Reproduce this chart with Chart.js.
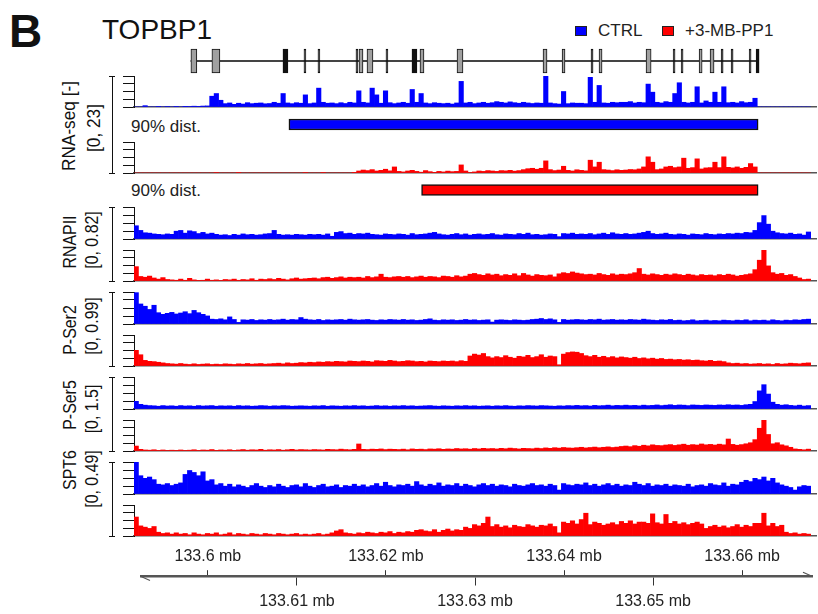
<!DOCTYPE html>
<html><head><meta charset="utf-8">
<script src="https://cdn.jsdelivr.net/npm/chart.js@4"></script>
<style>
html,body{margin:0;padding:0;background:#fff;}
body{width:818px;height:614px;position:relative;overflow:hidden;font-family:"Liberation Sans",Arial,sans-serif;color:#111;}
canvas{position:absolute;}
.t{position:absolute;white-space:nowrap;line-height:1;}
.r{position:absolute;white-space:nowrap;line-height:1;font-size:18.5px;transform:translate(-50%,-50%) rotate(-90deg) scaleX(0.86);}
.r2{position:absolute;white-space:nowrap;line-height:1;font-size:18.5px;transform:translate(-50%,-50%) rotate(-90deg) scaleX(0.93);}
.br{position:absolute;left:109px;width:6px;border-top:1px solid #111;border-bottom:1px solid #111;box-sizing:border-box;}
.br::before{content:"";position:absolute;left:2.5px;top:0;bottom:0;width:1px;background:#111;}
.sq{position:absolute;width:12px;height:10px;border:1px solid #222;box-sizing:border-box;}
</style></head><body>
<div class="t" style="left:9px;top:8px;font-size:46px;font-weight:bold;">B</div>
<div class="t" style="left:102px;top:16px;font-size:28px;">TOPBP1</div>
<div class="sq" style="left:575px;top:26px;background:#0000ff;"></div>
<div class="t" style="left:598px;top:22px;font-size:17px;color:#222;">CTRL</div>
<div class="sq" style="left:662px;top:26px;background:#ff0000;"></div>
<div class="t" style="left:685px;top:22px;font-size:17px;color:#222;">+3-MB-PP1</div>
<div class="t" style="left:131px;top:118px;font-size:17px;color:#222;">90% dist.</div>
<div class="t" style="left:131px;top:182px;font-size:17px;color:#222;">90% dist.</div>
<div class="r2" style="left:68.7px;top:126px;">RNA-seq [-]</div>
<div class="r2" style="left:93.7px;top:128px;">[0, 23]</div>
<div class="r" style="left:69.8px;top:241.5px;">RNAPII</div>
<div class="r" style="left:91.5px;top:240px;">[0, 0.82]</div>
<div class="r" style="left:69.8px;top:329.5px;">P-Ser2</div>
<div class="r" style="left:91.5px;top:325.5px;">[0, 0.99]</div>
<div class="r" style="left:69.8px;top:405px;">P-Ser5</div>
<div class="r" style="left:91.5px;top:408.5px;">[0, 1.5]</div>
<div class="r" style="left:69.8px;top:470px;">SPT6</div>
<div class="r" style="left:91.5px;top:478.5px;">[0, 0.49]</div>
<div class="br" style="top:76px;height:98px;"></div>
<div class="br" style="top:207px;height:75px;"></div>
<div class="br" style="top:292px;height:75px;"></div>
<div class="br" style="top:377px;height:75px;"></div>
<div class="br" style="top:462px;height:75px;"></div>
<script>
// ---- genomic window (mb) ----
const X_MIN = 133.5917;
const X_MAX = 133.6683;
const BIN_START = 133.5917;
const BIN_SIZE = 0.0005;

// ---- tick labels ----
const TOP_TICKS = [133.6, 133.62, 133.64, 133.66];
const BOTTOM_TICKS = [133.61, 133.63, 133.65];

// ---- gene model (TOPBP1) ----
const GENE_SPAN = [133.59809, 133.66180];
const EXONS_GRAY = [[133.59809,133.59876],[133.60045,133.60135],[133.61697,133.61742],[133.61787,133.61854],[133.62382,133.62427],[133.62798,133.62865],[133.63764,133.63809],[133.63978,133.64011],[133.64393,133.64427],[133.64921,133.64978],[133.65517,133.65551],[133.65640,133.65685]];
const EXONS_BLACK = [[133.60843,133.60899],[133.61079,133.61101],[133.61236,133.61258],[133.61663,133.61685],[133.62000,133.62022],[133.62292,133.62348],[133.64303,133.64326],[133.65225,133.65247],[133.65315,133.65337],[133.65764,133.65787],[133.65876,133.65899],[133.66079,133.66101],[133.66157,133.66191]];

// ---- 90% distribution ranges ----
const DIST_CTRL = [133.6091, 133.6618];
const DIST_MB = [133.6240, 133.6618];

// ---- axis maxima ----
const MAX_RNASEQ = 23, MAX_RNAPII = 0.82, MAX_PSER2 = 0.99, MAX_PSER5 = 1.5, MAX_SPT6 = 0.49;

// ---- signal tracks (one value per 0.5 kb bin) ----
const RNASEQ_CTRL = [
0,0,1.0,0,0,0.3,0,0.4,0,0.3,
0,0.5,0.4,0.6,0.5,0.7,0.8,8,10,5,
2.5,3,2,2.8,2.2,3.2,2.5,2.8,3,2.4,
2.6,3.5,2.8,10,3,2.5,3.2,2.8,9,2.5,
3,14,3.5,2.8,3,2.5,3.2,2.6,3.5,3,
12,3.5,3,14,9,2.8,12,3.2,2.5,3,
3.5,2.8,13,3.5,10,3,2.5,3.2,2.8,2.5,
2.8,2.2,3,19,3,3.5,2.5,3,3.5,2.8,
3.2,4,3.5,3,3.8,3.2,2.8,3.5,3,2.6,
3,2.8,23,3,2.5,2.2,11.5,2.5,3,2.8,
2.8,2.5,22,3.5,16,3,2.8,3.5,3.2,3.5,
3.5,4,3,3.5,3.2,17,11,3.5,3,4,
3.5,10,18,3.5,3,3.5,15,3,4.5,3.5,
11,3.5,15,3.2,3.5,3,4,3.2,3.5,6.5,
0,0,0,0,0,0,0,0,0,0,
0,0];
const RNASEQ_MB = [
0,0,0,0,0,0,0,0,0,0,
0,0,0,0,0,0,0,0,0.4,0,
0,0,0,0.3,0,0,0,0,0,0,
0,0,0,0,0,0,0,0,0.4,0,
0,0,0.3,0,0,0,0,0,0,0.2,
1.5,2.2,1.8,2.5,1.5,2,2.8,1.6,4.5,1.2,
0.8,1.5,2,1.2,0.6,1.8,1,0.5,1.2,0.8,
1.4,1,1.2,6,1.5,0.4,0.8,1.5,1.2,1.8,
1.5,1.2,1.8,1.6,2,1.4,1.8,2.5,3.2,3.5,
2.8,3.5,9,2.5,1.8,2.2,5,2,1.5,2.4,
2,1.6,9.5,4.5,8,2.5,2.2,1.8,2.4,2,
2.2,2.6,2.4,3,4.5,12,8,2.5,3,4.5,
5,4,4.5,11,3.5,4,10.5,3,3.8,4,
8,4,12,4.2,3.8,4.5,3.5,4.2,7,4.5,
0,0,0,0,0,0,0,0,0,0,
0,0];
const RNAPII_CTRL = [
0.34,0.22,0.16,0.15,0.13,0.12,0.11,0.13,0.12,0.20,
0.22,0.15,0.21,0.19,0.14,0.17,0.13,0.15,0.12,0.10,
0.11,0.09,0.12,0.10,0.13,0.11,0.12,0.10,0.11,0.13,
0.14,0.22,0.12,0.10,0.11,0.10,0.12,0.11,0.10,0.12,
0.11,0.12,0.10,0.13,0.07,0.17,0.19,0.14,0.15,0.12,
0.14,0.13,0.15,0.12,0.11,0.10,0.13,0.12,0.11,0.13,
0.12,0.10,0.14,0.11,0.12,0.13,0.15,0.17,0.13,0.11,
0.10,0.12,0.14,0.11,0.13,0.10,0.12,0.13,0.11,0.12,
0.14,0.11,0.10,0.13,0.12,0.11,0.14,0.12,0.15,0.11,
0.12,0.10,0.11,0.13,0.12,0.06,0.14,0.13,0.15,0.12,
0.13,0.12,0.14,0.11,0.13,0.15,0.12,0.16,0.13,0.12,
0.14,0.12,0.13,0.15,0.17,0.20,0.14,0.12,0.13,0.15,
0.12,0.11,0.13,0.12,0.10,0.13,0.12,0.11,0.14,0.12,
0.11,0.13,0.12,0.14,0.13,0.15,0.14,0.17,0.16,0.22,
0.42,0.60,0.38,0.20,0.16,0.14,0.13,0.15,0.12,0.13,
0.10,0.18];
const RNAPII_MB = [
0.38,0.12,0.10,0.13,0.08,0.05,0.09,0.04,0.03,0.02,
0.05,0.02,0.07,0.03,0.01,0.02,0.05,0.02,0.03,0.01,
0.04,0.03,0.05,0.02,0.04,0.03,0.06,0.02,0.05,0.04,
0.06,0.04,0.07,0.05,0.03,0.06,0.08,0.05,0.06,0.07,
0.08,0.06,0.09,0.10,0.07,0.09,0.11,0.08,0.10,0.09,
0.10,0.08,0.12,0.09,0.11,0.18,0.10,0.09,0.11,0.12,
0.10,0.12,0.09,0.11,0.13,0.10,0.12,0.11,0.09,0.13,
0.12,0.10,0.14,0.11,0.13,0.18,0.20,0.17,0.15,0.19,
0.16,0.18,0.14,0.17,0.15,0.19,0.14,0.20,0.16,0.13,
0.17,0.15,0.14,0.16,0.11,0.19,0.22,0.20,0.24,0.21,
0.19,0.17,0.18,0.16,0.20,0.17,0.15,0.19,0.16,0.18,
0.17,0.19,0.22,0.33,0.18,0.16,0.19,0.17,0.15,0.18,
0.16,0.19,0.17,0.15,0.18,0.16,0.14,0.17,0.15,0.16,
0.14,0.17,0.15,0.18,0.16,0.13,0.15,0.17,0.19,0.30,
0.55,0.82,0.40,0.22,0.18,0.20,0.15,0.17,0.12,0.08,
0.04,0.05];
const PSER2_CTRL = [
0.97,0.62,0.55,0.45,0.58,0.35,0.30,0.33,0.36,0.31,
0.34,0.38,0.32,0.42,0.35,0.30,0.25,0.15,0.14,0.16,
0.13,0.22,0.14,0.05,0.13,0.12,0.14,0.11,0.13,0.12,
0.14,0.12,0.13,0.15,0.12,0.14,0.13,0.20,0.15,0.13,
0.12,0.14,0.11,0.13,0.12,0.13,0.14,0.12,0.15,0.13,
0.12,0.13,0.14,0.12,0.11,0.13,0.12,0.14,0.13,0.12,
0.14,0.12,0.13,0.11,0.12,0.14,0.16,0.12,0.11,0.13,
0.12,0.13,0.11,0.12,0.14,0.12,0.13,0.11,0.12,0.13,
0.06,0.12,0.13,0.12,0.11,0.13,0.12,0.11,0.12,0.14,
0.15,0.17,0.14,0.16,0.13,0.05,0.14,0.12,0.13,0.14,
0.13,0.12,0.14,0.13,0.15,0.12,0.13,0.14,0.12,0.13,
0.12,0.14,0.13,0.12,0.15,0.13,0.12,0.11,0.13,0.12,
0.14,0.11,0.12,0.10,0.11,0.13,0.10,0.11,0.12,0.10,
0.11,0.10,0.12,0.11,0.10,0.12,0.11,0.13,0.10,0.12,
0.11,0.12,0.10,0.13,0.11,0.10,0.12,0.11,0.13,0.12,
0.14,0.15];
const PSER2_MB = [
0.50,0.36,0.18,0.15,0.14,0.12,0.10,0.08,0.07,0.06,
0.08,0.06,0.05,0.07,0.05,0.06,0.07,0.05,0.06,0.05,
0.07,0.06,0.05,0.07,0.06,0.08,0.06,0.07,0.08,0.06,
0.07,0.08,0.09,0.07,0.10,0.08,0.09,0.11,0.10,0.12,
0.11,0.13,0.12,0.14,0.13,0.15,0.14,0.13,0.16,0.15,
0.14,0.16,0.15,0.13,0.17,0.16,0.15,0.18,0.16,0.14,
0.15,0.17,0.16,0.14,0.15,0.13,0.16,0.15,0.14,0.16,
0.15,0.16,0.14,0.17,0.15,0.32,0.38,0.35,0.40,0.30,
0.26,0.30,0.27,0.33,0.28,0.25,0.31,0.29,0.34,0.27,
0.30,0.36,0.28,0.32,0.30,0.04,0.38,0.43,0.45,0.44,
0.40,0.33,0.30,0.34,0.28,0.31,0.27,0.30,0.26,0.29,
0.27,0.25,0.28,0.24,0.26,0.23,0.25,0.22,0.24,0.21,
0.22,0.20,0.21,0.19,0.20,0.18,0.19,0.17,0.16,0.18,
0.15,0.16,0.14,0.10,0.08,0.09,0.07,0.08,0.06,0.07,
0.08,0.06,0.07,0.05,0.08,0.06,0.07,0.09,0.08,0.07,
0.09,0.10];
const PSER5_CTRL = [
0.36,0.22,0.18,0.16,0.15,0.13,0.16,0.14,0.15,0.13,
0.16,0.14,0.15,0.13,0.16,0.14,0.15,0.16,0.13,0.15,
0.14,0.15,0.13,0.16,0.14,0.15,0.13,0.14,0.16,0.15,
0.13,0.15,0.14,0.16,0.15,0.13,0.14,0.15,0.14,0.13,
0.15,0.14,0.16,0.13,0.15,0.14,0.13,0.15,0.14,0.16,
0.14,0.15,0.13,0.14,0.16,0.14,0.15,0.13,0.15,0.14,
0.16,0.14,0.15,0.13,0.14,0.15,0.16,0.14,0.13,0.15,
0.14,0.13,0.15,0.14,0.16,0.14,0.15,0.13,0.14,0.15,
0.13,0.15,0.14,0.16,0.14,0.13,0.15,0.14,0.16,0.15,
0.14,0.16,0.15,0.14,0.13,0.15,0.14,0.16,0.15,0.17,
0.15,0.16,0.14,0.17,0.15,0.16,0.18,0.15,0.17,0.16,
0.18,0.16,0.17,0.15,0.18,0.16,0.17,0.19,0.16,0.18,
0.20,0.17,0.19,0.18,0.16,0.19,0.18,0.17,0.19,0.18,
0.17,0.19,0.18,0.20,0.18,0.19,0.17,0.20,0.22,0.35,
0.85,1.14,0.70,0.32,0.22,0.18,0.20,0.17,0.15,0.18,
0.14,0.16];
const PSER5_MB = [
0.24,0.08,0.05,0.04,0.06,0.03,0.05,0.02,0.04,0.03,
0.05,0.02,0.04,0.06,0.03,0.05,0.04,0.07,0.03,0.05,
0.04,0.06,0.03,0.05,0.07,0.04,0.06,0.05,0.08,0.04,
0.06,0.05,0.07,0.04,0.06,0.08,0.05,0.07,0.06,0.05,
0.07,0.06,0.05,0.08,0.07,0.06,0.09,0.07,0.06,0.08,
0.34,0.08,0.07,0.09,0.08,0.10,0.07,0.09,0.08,0.07,
0.09,0.06,0.10,0.08,0.09,0.07,0.10,0.09,0.11,0.08,
0.10,0.09,0.12,0.10,0.11,0.09,0.12,0.10,0.13,0.11,
0.12,0.10,0.13,0.11,0.14,0.12,0.10,0.13,0.12,0.11,
0.14,0.12,0.15,0.13,0.16,0.14,0.17,0.15,0.14,0.16,
0.18,0.15,0.17,0.19,0.16,0.18,0.20,0.17,0.19,0.22,
0.24,0.21,0.26,0.23,0.28,0.25,0.30,0.27,0.26,0.29,
0.31,0.27,0.30,0.33,0.28,0.31,0.29,0.34,0.30,0.32,
0.29,0.33,0.30,0.58,0.32,0.28,0.31,0.35,0.40,0.55,
1.10,1.50,0.80,0.35,0.40,0.30,0.25,0.18,0.10,0.08,
0.06,0.09];
const SPT6_CTRL = [
0.49,0.28,0.24,0.26,0.22,0.15,0.14,0.16,0.13,0.15,
0.17,0.30,0.36,0.33,0.28,0.34,0.20,0.22,0.14,0.16,
0.12,0.15,0.11,0.14,0.12,0.10,0.13,0.16,0.12,0.10,
0.13,0.11,0.15,0.12,0.10,0.13,0.14,0.11,0.16,0.12,
0.10,0.13,0.15,0.11,0.12,0.14,0.10,0.13,0.12,0.15,
0.12,0.14,0.11,0.13,0.16,0.12,0.18,0.13,0.11,0.14,
0.13,0.15,0.12,0.19,0.14,0.12,0.15,0.13,0.17,0.12,
0.14,0.13,0.16,0.12,0.15,0.13,0.11,0.14,0.16,0.13,
0.15,0.12,0.14,0.13,0.11,0.15,0.13,0.12,0.14,0.16,
0.13,0.14,0.12,0.15,0.13,0.06,0.16,0.14,0.13,0.15,
0.14,0.17,0.13,0.15,0.12,0.14,0.16,0.13,0.15,0.12,
0.14,0.13,0.18,0.15,0.13,0.16,0.12,0.14,0.13,0.15,
0.12,0.14,0.13,0.12,0.15,0.11,0.13,0.14,0.12,0.16,
0.14,0.13,0.17,0.12,0.15,0.14,0.18,0.21,0.19,0.24,
0.22,0.26,0.20,0.24,0.17,0.14,0.12,0.10,0.06,0.11,
0.13,0.12];
const SPT6_MB = [
0.30,0.16,0.14,0.12,0.15,0.06,0.04,0.05,0.03,0.05,
0.03,0.04,0.02,0.05,0.03,0.02,0.04,0.03,0.05,0.02,
0.03,0.05,0.02,0.04,0.03,0.02,0.04,0.03,0.02,0.04,
0.03,0.02,0.04,0.03,0.02,0.03,0.04,0.02,0.03,0.02,
0.03,0.04,0.02,0.03,0.05,0.08,0.10,0.05,0.04,0.03,
0.05,0.04,0.06,0.05,0.04,0.06,0.05,0.07,0.04,0.06,
0.05,0.07,0.06,0.09,0.10,0.08,0.07,0.10,0.06,0.09,
0.11,0.08,0.10,0.09,0.14,0.12,0.18,0.16,0.20,0.30,
0.15,0.18,0.14,0.16,0.13,0.17,0.15,0.14,0.18,0.16,
0.14,0.17,0.16,0.19,0.15,0.05,0.22,0.20,0.24,0.19,
0.26,0.36,0.18,0.22,0.20,0.17,0.19,0.21,0.18,0.23,
0.20,0.24,0.19,0.22,0.22,0.20,0.35,0.21,0.19,0.34,
0.20,0.23,0.19,0.21,0.18,0.20,0.22,0.19,0.12,0.15,
0.17,0.14,0.16,0.13,0.15,0.18,0.14,0.17,0.15,0.20,
0.20,0.36,0.16,0.20,0.15,0.17,0.06,0.04,0.05,0.03,
0.04,0.03];

const BLUE = '#0000ff', RED = '#ff0000';

Chart.defaults.font.family = '"Liberation Sans", Arial, sans-serif';

function mk(top, height) {
  const c = document.createElement('canvas');
  c.width = 695; c.height = height;
  c.style.left = '123px'; c.style.top = top + 'px';
  c.style.width = '695px'; c.style.height = height + 'px';
  document.body.appendChild(c);
  return c;
}
const base = { responsive: false, animation: false, events: [], devicePixelRatio: 1,
  plugins: { legend: { display: false }, tooltip: { enabled: false } } };

function track(top, bottom, values, maxV, color) {
  const cv = mk(top - 2, bottom - top + 4);
  new Chart(cv, {
    type: 'bar',
    data: { datasets: [{
      data: values.map((v, i) => ({ x: BIN_START + (i + 0.5) * BIN_SIZE, y: v })),
      backgroundColor: color, borderWidth: 0, barPercentage: 1, categoryPercentage: 1 }] },
    options: Object.assign({}, base, {
      layout: { padding: { top: 2, bottom: 2, left: 0, right: 2 } },
      scales: {
        x: { type: 'linear', min: X_MIN, max: X_MAX, offset: false,
             ticks: { display: false }, grid: { display: false, drawTicks: false },
             border: { display: true, color: '#555', width: 1.5 } },
        y: { type: 'linear', min: 0, max: maxV,
             ticks: { display: false, count: 5 },
             grid: { drawOnChartArea: false, drawTicks: true, tickLength: 11, color: '#111', lineWidth: 1 },
             border: { display: true, color: '#111', width: 1 },
             afterFit: s => { s.width = 11; } }
      }
    })
  });
}

function hbar(top, height, datasets) {
  const cv = mk(top, height);
  new Chart(cv, {
    type: 'bar',
    data: { labels: ['g'], datasets },
    options: Object.assign({}, base, {
      indexAxis: 'y',
      layout: { padding: { top: 0, bottom: 0, left: 11, right: 2 } },
      scales: {
        x: { type: 'linear', min: X_MIN, max: X_MAX, display: false },
        y: { type: 'category', display: false }
      }
    })
  });
}

// gene model
hbar(44, 34, [
  { data: EXONS_GRAY.map(e => ({ x: e, y: 'g' })), backgroundColor: '#a0a0a0', borderColor: '#111', borderWidth: 1, borderSkipped: false, barThickness: 24, grouped: false, order: 1 },
  { data: EXONS_BLACK.map(e => ({ x: e, y: 'g' })), backgroundColor: '#111', borderColor: '#111', borderWidth: 1, borderSkipped: false, barThickness: 24, grouped: false, order: 1 },
  { data: [{ x: GENE_SPAN, y: 'g' }], backgroundColor: '#444', borderWidth: 0, barThickness: 1.5, grouped: false, order: 5 }
]);

// RNA-seq
track(76, 107, RNASEQ_CTRL, MAX_RNASEQ, BLUE);
hbar(115, 19, [{ data: [{ x: DIST_CTRL, y: 'g' }], backgroundColor: BLUE, borderColor: '#111', borderWidth: 1.5, borderSkipped: false, barThickness: 11 }]);
track(142, 173, RNASEQ_MB, MAX_RNASEQ, RED);
hbar(181, 18, [{ data: [{ x: DIST_MB, y: 'g' }], backgroundColor: RED, borderColor: '#111', borderWidth: 1.5, borderSkipped: false, barThickness: 11 }]);

// ChIP tracks
const GROUPS = [
  [207, RNAPII_CTRL, RNAPII_MB, MAX_RNAPII],
  [292, PSER2_CTRL, PSER2_MB, MAX_PSER2],
  [377, PSER5_CTRL, PSER5_MB, MAX_PSER5],
  [462, SPT6_CTRL, SPT6_MB, MAX_SPT6]
];
GROUPS.forEach(([t, c, m, mx]) => {
  track(t, t + 32, c, mx, BLUE);
  track(t + 43, t + 74, m, mx, RED);
});

// genomic axis
const span = X_MAX - X_MIN;
const axMin = X_MIN + 7 * span / 682, axMax = X_MAX - 4 * span / 682;
const arrows = { id: 'arrows', afterDraw(c) {
  const a = c.chartArea, g = c.ctx;
  g.save(); g.strokeStyle = '#555'; g.lineWidth = 1.2; g.beginPath();
  g.moveTo(a.right, a.top); g.lineTo(a.right - 9, a.top - 4);
  g.moveTo(a.left, a.bottom); g.lineTo(a.left + 9, a.bottom + 4);
  g.stroke(); g.restore();
} };
const axCv = mk(543, 67);
new Chart(axCv, {
  type: 'scatter',
  data: { datasets: [] },
  plugins: [arrows],
  options: Object.assign({}, base, {
    layout: { padding: { left: 18, right: 6, top: 0, bottom: 0 } },
    scales: {
      x: { type: 'linear', position: 'top', min: axMin, max: axMax,
           afterBuildTicks: s => { s.ticks = TOP_TICKS.map(v => ({ value: v })); },
           ticks: { callback: v => v + ' mb', font: { size: 16 }, color: '#222', padding: 4, maxRotation: 0, autoSkip: false },
           grid: { drawOnChartArea: false, tickLength: 6, color: '#333', lineWidth: 1 },
           border: { display: true, color: '#555', width: 1.5 } },
      x2: { type: 'linear', axis: 'x', position: 'bottom', min: axMin, max: axMax,
           afterBuildTicks: s => { s.ticks = BOTTOM_TICKS.map(v => ({ value: v })); },
           ticks: { callback: v => v + ' mb', font: { size: 16 }, color: '#222', padding: 6, maxRotation: 0, autoSkip: false },
           grid: { drawOnChartArea: false, tickLength: 9, color: '#333', lineWidth: 1 },
           border: { display: true, color: '#555', width: 1.5 } },
      y: { display: false }
    }
  })
});
</script>
</body></html>
